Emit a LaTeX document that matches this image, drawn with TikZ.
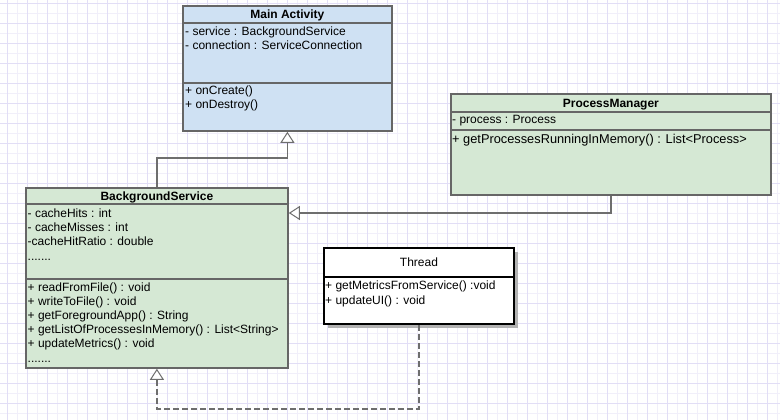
\documentclass[tikz,border=0pt]{standalone}
\usepackage{fontspec}
\setmainfont{Liberation Sans}
\usetikzlibrary{arrows.meta,shadows}

\definecolor{gridminor}{RGB}{241,239,250}
\definecolor{gridmajor}{RGB}{226,222,246}
\definecolor{boxline}{RGB}{102,102,102}
\definecolor{edgeline}{RGB}{110,110,110}
\definecolor{classblue}{RGB}{207,225,243}
\definecolor{classgreen}{RGB}{213,232,212}

\begin{document}
\begin{tikzpicture}[x=1pt,y=-1pt,
  classbox/.style={draw=boxline, line width=1.8pt, anchor=north west, inner sep=0pt},
  divider/.style={draw=boxline, line width=1.5pt},
  classname/.style={font=\fontsize{12}{14}\selectfont\bfseries, anchor=base, inner sep=0pt},
  member/.style={font=\fontsize{12}{14}\selectfont, anchor=base west, inner sep=0pt},
  gen/.style={draw=edgeline, line width=1.5pt,
    -{Triangle[length=11pt,width=14pt,fill=white,line width=1pt]}},
]
% page and background grid
\useasboundingbox (0,0) rectangle (780,420);
\fill[white] (0,0) rectangle (780,420);
\foreach \x in {7,17,...,777} \draw[gridminor, line width=1pt] (\x,0) -- (\x,420);
\foreach \y in {3.5,13.5,...,413.5} \draw[gridminor, line width=1pt] (0,\y) -- (780,\y);
\foreach \x in {7,27,...,767} \draw[gridmajor, line width=1pt] (\x,0) -- (\x,420);
\foreach \y in {3.5,23.5,...,403.5} \draw[gridmajor, line width=1pt] (0,\y) -- (780,\y);

% Main Activity
\node[classbox, fill=classblue, minimum width=209pt, minimum height=125pt] (main) at (182,5) {};
\draw[divider] (main.west |- 0,23) -- (main.east |- 0,23);
\draw[divider] (main.west |- 0,83) -- (main.east |- 0,83);
\node[classname] (mainT) at (main.north |- 0,18.3) {Main Activity};
\node[member] (mainA1) at (185,36) {- service : BackgroundService};
\node[member] (mainA2) at (185,49.5) {- connection : ServiceConnection};
\node[member] (mainM1) at (185,95) {+ onCreate()};
\node[member] (mainM2) at (185,108.5) {+ onDestroy()};

% ProcessManager
\node[classbox, fill=classgreen, minimum width=320pt, minimum height=101pt] (pm) at (450,93) {};
\draw[divider] (pm.west |- 0,112) -- (pm.east |- 0,112);
\draw[divider] (pm.west |- 0,130) -- (pm.east |- 0,130);
\node[classname] (pmT) at (pm.north |- 0,107) {ProcessManager};
\node[member] (pmA1) at (452,124) {- process : Process};
\node[member, font=\fontsize{12.8}{14}\selectfont] (pmM1) at (452,143.5) {+ getProcessesRunningInMemory() : List<Process>};

% BackgroundService
\node[classbox, fill=classgreen, minimum width=262pt, minimum height=180pt] (bs) at (25,187) {};
\draw[divider] (bs.west |- 0,204) -- (bs.east |- 0,204);
\draw[divider] (bs.west |- 0,279) -- (bs.east |- 0,279);
\node[classname] (bsT) at (bs.north |- 0,200) {BackgroundService};
\node[member] (bsA1) at (27.5,217.7) {- cacheHits : int};
\node[member] (bsA2) at (27.5,231.7) {- cacheMisses : int};
\node[member] (bsA3) at (27.5,245.7) {-cacheHitRatio : double};
\node[member] (bsA4) at (27.5,260.5) {.......};
\node[member] (bsM1) at (27.5,291.7) {+ readFromFile() : void};
\node[member] (bsM2) at (27.5,305.7) {+ writeToFile() : void};
\node[member] (bsM3) at (27.5,319.7) {+ getForegroundApp() : String};
\node[member] (bsM4) at (27.5,333.7) {+ getListOfProcessesInMemory() : List<String>};
\node[member] (bsM5) at (27.5,347.7) {+ updateMetrics() : void};
\node[member] (bsM6) at (27.5,362.2) {.......};

% Thread
\node[classbox, draw=black, fill=white, line width=2pt, minimum width=190pt, minimum height=76pt,
  drop shadow={shadow xshift=4pt, shadow yshift=-4pt, opacity=1, fill=black!30}] (thread) at (323,247) {};
\draw[divider, draw=black, line width=1.6pt] (thread.west |- 0,277) -- (thread.east |- 0,277);
\node[classname, font=\fontsize{12}{14}\selectfont] (threadT) at (thread.north |- 0,266) {Thread};
\node[member] (threadM1) at (325,289.3) {+ getMetricsFromService() :void};
\node[member] (threadM2) at (325,304) {+ updateUI() : void};

% generalisation and realisation connectors
\draw[gen] (bs.north) -- ++(0,-29) -| (main.south);
\draw[gen] (pm.south) |- ([yshift=-26pt]bs.north east);
\draw[gen, dashed, dash pattern=on 6pt off 3pt] (thread.south) -- ++(0,84) -| (bs.south);
\end{tikzpicture}
\end{document}
